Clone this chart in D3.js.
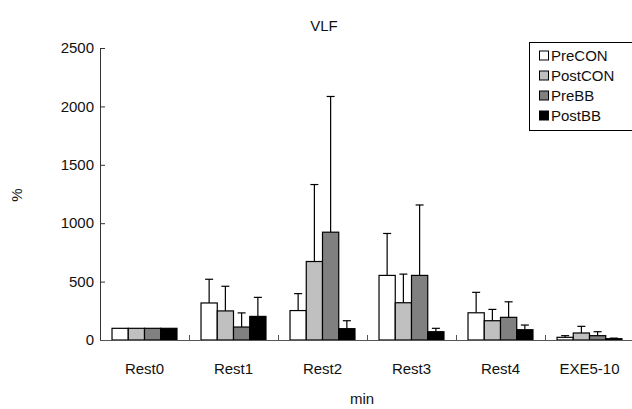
<!DOCTYPE html>
<html>
<head>
<meta charset="utf-8">
<script src="https://cdn.jsdelivr.net/npm/d3@7"></script>
<style>
  html, body { margin: 0; padding: 0; background: #fff; }
  svg { display: block; font-family: "Liberation Sans", Arial, sans-serif; }
</style>
</head>
<body>
<svg id="chart" width="632" height="409"></svg>
<script>
// Groups along the x axis
const categories = ["Rest0", "Rest1", "Rest2", "Rest3", "Rest4", "EXE5-10"];
const seriesNames = ["PreCON", "PostCON", "PreBB", "PostBB"];
const seriesColors = ["#ffffff", "#c0c0c0", "#808080", "#000000"];

// Mean values (%)
const preCON  = [100, 317, 252, 553, 233, 23];
const postCON = [100, 249, 672, 319, 165, 60];
const preBB   = [100, 111, 923, 553, 194, 37];
const postBB  = [100, 202, 97, 71, 88, 11];

// Upper error (SD)
const preCONsd  = [0, 203, 145, 359, 175, 14];
const postCONsd = [0, 211, 659, 245, 97, 57];
const preBBsd   = [0, 121, 1162, 603, 133, 34];
const postBBsd  = [0, 163, 68, 29, 40, 5];

const yTicks = [0, 500, 1000, 1500, 2000, 2500];

const means = [preCON, postCON, preBB, postBB];
const sds = [preCONsd, postCONsd, preBBsd, postBBsd];

const svg = d3.select("#chart");
const plot = { left: 100, right: 634, top: 48, bottom: 340 };
const fs = 15;
const textColor = "#111";

const x = d3.scaleBand().domain(categories).range([plot.left, plot.right]);
const groupGap = 0.135 * x.bandwidth();
const inner = d3.scaleBand().domain(seriesNames).range([groupGap, x.bandwidth() - groupGap]);
const y = d3.scaleLinear().domain([0, 2500]).range([plot.bottom, plot.top]);

// Title
svg.append("text").attr("x", 324).attr("y", 31).attr("text-anchor", "middle")
  .attr("font-size", fs).attr("fill", textColor).text("VLF");

// Bars and error bars
const rows = [];
seriesNames.forEach((s, si) => {
  categories.forEach((c, ci) => {
    rows.push({ s, si, c, v: means[si][ci], e: sds[si][ci] });
  });
});

const g = svg.append("g");
rows.forEach(d => {
  const bx = x(d.c) + inner(d.s);
  const cx = bx + inner.bandwidth() / 2;
  if (d.e > 0) {
    g.append("line").attr("x1", cx).attr("x2", cx).attr("y1", y(d.v)).attr("y2", y(d.v + d.e))
      .attr("stroke", "#000").attr("stroke-width", 1.2);
    g.append("line").attr("x1", cx - 4).attr("x2", cx + 4).attr("y1", y(d.v + d.e)).attr("y2", y(d.v + d.e))
      .attr("stroke", "#000").attr("stroke-width", 1.2);
  }
});
rows.forEach(d => {
  const bx = x(d.c) + inner(d.s);
  g.append("rect").attr("x", bx).attr("y", y(d.v)).attr("width", inner.bandwidth()).attr("height", y(0) - y(d.v))
    .attr("fill", seriesColors[d.si]).attr("stroke", "#000").attr("stroke-width", 1.2);
});

// Y axis
const yAxis = d3.axisRight(y).tickValues(yTicks).tickSize(5).tickFormat("");
const ya = svg.append("g").attr("transform", `translate(${plot.left},0)`).call(yAxis);
ya.selectAll("path, line").attr("stroke", "#333");
ya.select(".domain").attr("d", `M0.5,${plot.top}V${plot.bottom}`);
svg.append("g").selectAll("text").data(yTicks).join("text")
  .attr("x", 94).attr("y", d => y(d)).attr("dy", "0.35em").attr("text-anchor", "end")
  .attr("font-size", fs).attr("fill", textColor).text(d => d);

// X axis
const xa = svg.append("g").attr("transform", `translate(0,${plot.bottom})`)
  .call(d3.axisTop(x).tickSize(0).tickFormat(""));
xa.select(".domain").attr("stroke", "#555").attr("d", `M${plot.left},0.5H${plot.right}`);
// category separators
const seps = categories.slice(1).map(c => x(c));
svg.append("g").selectAll("line").data(seps).join("line")
  .attr("x1", d => d + 0.5).attr("x2", d => d + 0.5).attr("y1", plot.bottom).attr("y2", plot.bottom - 5)
  .attr("stroke", "#555");
svg.append("g").selectAll("text").data(categories).join("text")
  .attr("x", d => x(d) + x.bandwidth() / 2).attr("y", 374).attr("text-anchor", "middle")
  .attr("font-size", fs).attr("fill", textColor).text(d => d);

// Axis titles
svg.append("text").attr("x", 362).attr("y", 404).attr("text-anchor", "middle")
  .attr("font-size", fs).attr("fill", textColor).text("min");
svg.append("text").attr("transform", "translate(22,195) rotate(-90)").attr("text-anchor", "middle")
  .attr("font-size", fs).attr("fill", textColor).text("%");

// Legend
const lg = svg.append("g").attr("transform", "translate(529,42)");
lg.append("rect").attr("x", 0.5).attr("y", 0.5).attr("width", 110).attr("height", 88)
  .attr("fill", "#fff").attr("stroke", "#000");
seriesNames.forEach((s, i) => {
  const cy = 13 + i * 20;
  lg.append("rect").attr("x", 10.5).attr("y", cy - 4).attr("width", 9).attr("height", 9)
    .attr("fill", seriesColors[i]).attr("stroke", "#000");
  lg.append("text").attr("x", 22).attr("y", cy + 1).attr("dy", "0.35em")
    .attr("font-size", fs).attr("fill", textColor).text(s);
});
</script>
</body>
</html>
